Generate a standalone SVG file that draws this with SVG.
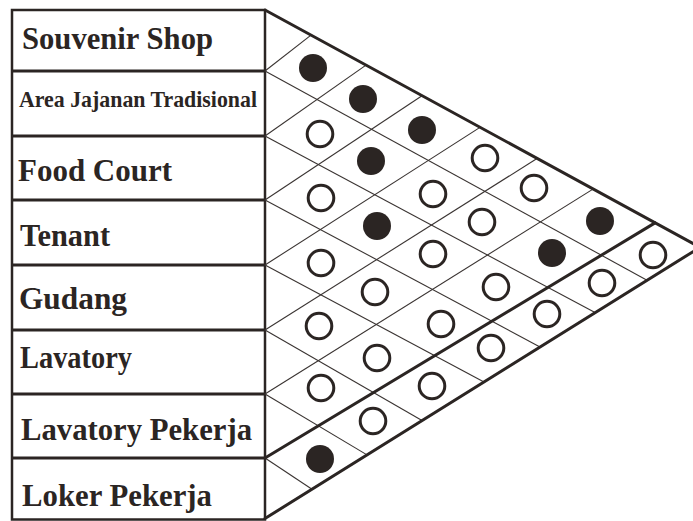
<svg xmlns="http://www.w3.org/2000/svg" width="693" height="521" viewBox="0 0 693 521">
  <style>
    .frame { fill: none; stroke: #2b2523; stroke-width: 2.5; }
    .sep { stroke: #2b2523; stroke-width: 3; }
    .label { font-family: "Liberation Serif", "Times New Roman", serif; font-weight: bold; fill: #2b2523; }
    .grid { stroke: #3a3432; stroke-width: 1.1; fill: none; }
    .edge { stroke: #2b2523; stroke-width: 3; fill: none; stroke-linecap: round; }
    .strong { fill: #2b2523; }
    .weak { fill: none; stroke: #2b2523; stroke-width: 3; }
  </style>
  <rect width="693" height="521" fill="#ffffff"/>

  <!-- space list -->
  <g id="rows">
    <rect class="frame" x="12" y="10" width="253" height="509.5"/>
    <g id="row-souvenir-shop">
      <text class="label" x="22" y="49" font-size="31" textLength="191" lengthAdjust="spacingAndGlyphs">Souvenir Shop</text>
    </g>
    <line class="sep" x1="12" y1="71" x2="265" y2="71"/>
    <g id="row-area-jajanan">
      <text class="label" x="19" y="107" font-size="24" textLength="238" lengthAdjust="spacingAndGlyphs">Area Jajanan Tradisional</text>
    </g>
    <line class="sep" x1="12" y1="136" x2="265" y2="136"/>
    <g id="row-food-court">
      <text class="label" x="18" y="181" font-size="31" textLength="154" lengthAdjust="spacingAndGlyphs">Food Court</text>
    </g>
    <line class="sep" x1="12" y1="200" x2="265" y2="200"/>
    <g id="row-tenant">
      <text class="label" x="20" y="246" font-size="31" textLength="90" lengthAdjust="spacingAndGlyphs">Tenant</text>
    </g>
    <line class="sep" x1="12" y1="265" x2="265" y2="265"/>
    <g id="row-gudang">
      <text class="label" x="19" y="309" font-size="31" textLength="108" lengthAdjust="spacingAndGlyphs">Gudang</text>
    </g>
    <line class="sep" x1="12" y1="330" x2="265" y2="330"/>
    <g id="row-lavatory">
      <text class="label" x="20" y="368" font-size="31" textLength="112" lengthAdjust="spacingAndGlyphs">Lavatory</text>
    </g>
    <line class="sep" x1="12" y1="394" x2="265" y2="394"/>
    <g id="row-lavatory-pekerja">
      <text class="label" x="21" y="440" font-size="31" textLength="231" lengthAdjust="spacingAndGlyphs">Lavatory Pekerja</text>
    </g>
    <line class="sep" x1="12" y1="458" x2="265" y2="458"/>
    <g id="row-loker-pekerja">
      <text class="label" x="22" y="506" font-size="31" textLength="190" lengthAdjust="spacingAndGlyphs">Loker Pekerja</text>
    </g>
  </g>

  <!-- relationship grid -->
  <g id="connectors">
    <!-- rising lines -->
    <line class="grid" x1="265" y1="71" x2="311" y2="35.1"/>
    <line class="grid" x1="265" y1="136" x2="366" y2="65.1"/>
    <line class="grid" x1="265" y1="200" x2="422" y2="95.7"/>
    <line class="grid" x1="265" y1="265" x2="480" y2="127.4"/>
    <line class="grid" x1="265" y1="330" x2="537" y2="158.5"/>
    <line class="grid" x1="265" y1="394" x2="593" y2="189.1"/>
    <!-- falling lines -->
    <line class="grid" x1="265" y1="71" x2="647" y2="280.2"/>
    <line class="grid" x1="265" y1="136" x2="595" y2="312.6"/>
    <line class="grid" x1="265" y1="200" x2="540" y2="346.9"/>
    <line class="grid" x1="265" y1="265" x2="484" y2="381.9"/>
    <line class="grid" x1="265" y1="330" x2="422" y2="420.5"/>
    <line class="grid" x1="265" y1="394" x2="367" y2="454.9"/>
    <line class="grid" x1="265" y1="458" x2="312" y2="489.2"/>
    <!-- outline and divider -->
    <line class="edge" x1="265" y1="458" x2="655" y2="222.9"/>
    <polyline class="edge" points="265,10 700,247.3 265,518.5"/>
  </g>

  <!-- relationship marks -->
  <g id="marks">
    <circle class="strong" cx="313" cy="68" r="14"/>
    <circle class="strong" cx="363" cy="99" r="14"/>
    <circle class="strong" cx="422" cy="130" r="14"/>
    <circle class="weak" cx="485" cy="158" r="12.8"/>
    <circle class="weak" cx="534" cy="188" r="12.8"/>
    <circle class="strong" cx="600" cy="221" r="14"/>
    <circle class="weak" cx="653" cy="255" r="12.8"/>

    <circle class="weak" cx="320" cy="134" r="12.8"/>
    <circle class="strong" cx="371" cy="161" r="14"/>
    <circle class="weak" cx="433" cy="194" r="12.8"/>
    <circle class="weak" cx="482" cy="222" r="12.8"/>
    <circle class="strong" cx="552" cy="253" r="14"/>
    <circle class="weak" cx="602" cy="283" r="12.8"/>

    <circle class="weak" cx="321" cy="198" r="12.8"/>
    <circle class="strong" cx="377" cy="226" r="14"/>
    <circle class="weak" cx="433" cy="254" r="12.8"/>
    <circle class="weak" cx="496" cy="287" r="12.8"/>
    <circle class="weak" cx="547" cy="314" r="12.8"/>

    <circle class="weak" cx="321" cy="263" r="12.8"/>
    <circle class="weak" cx="375" cy="292" r="12.8"/>
    <circle class="weak" cx="441" cy="324" r="12.8"/>
    <circle class="weak" cx="491" cy="348" r="12.8"/>

    <circle class="weak" cx="319" cy="326" r="12.8"/>
    <circle class="weak" cx="377" cy="358" r="12.8"/>
    <circle class="weak" cx="432" cy="386" r="12.8"/>

    <circle class="weak" cx="321" cy="388" r="12.8"/>
    <circle class="weak" cx="373" cy="421" r="12.8"/>

    <circle class="strong" cx="320" cy="459" r="14"/>
  </g>
</svg>
